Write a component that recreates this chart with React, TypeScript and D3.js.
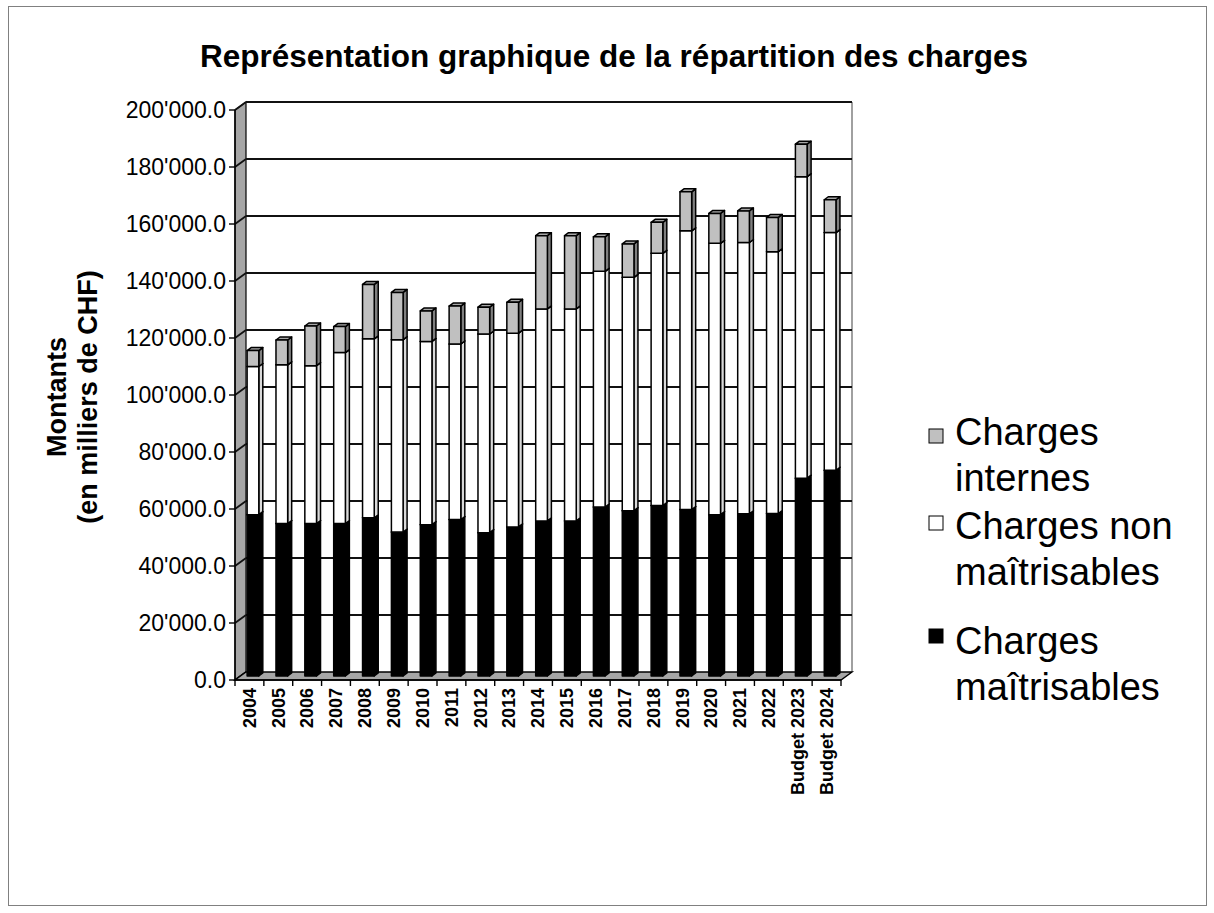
import * as d3 from 'd3';
import React from 'react';

// montants en milliers de CHF
const categories = [
  '2004', '2005', '2006', '2007', '2008', '2009', '2010', '2011', '2012', '2013',
  '2014', '2015', '2016', '2017', '2018', '2019', '2020', '2021', '2022',
  'Budget 2023', 'Budget 2024',
];
const maitrisables = [
  56.6, 53.5, 53.5, 53.5, 55.5, 50.5, 53.1, 54.9, 50.3, 52.3,
  54.4, 54.4, 59.3, 58.0, 59.8, 58.4, 56.6, 56.9, 57.0, 69.4, 72.2,
];
const nonMaitrisables = [
  52.0, 55.7, 55.4, 60.0, 62.8, 67.5, 64.3, 61.6, 69.7, 68.0,
  74.4, 74.4, 82.7, 81.9, 88.5, 97.8, 95.2, 95.2, 91.9, 105.8, 83.4,
];
const internes = [
  5.6, 8.7, 13.9, 9.1, 19.1, 16.6, 10.7, 13.3, 9.4, 10.8,
  25.7, 25.7, 12.1, 11.7, 10.9, 13.7, 10.5, 11.1, 12.0, 11.4, 11.5,
];
const yTicks = [0, 20000, 40000, 60000, 80000, 100000, 120000, 140000, 160000, 180000, 200000];

const seriesNames = ['Charges maîtrisables', 'Charges non maîtrisables', 'Charges internes'];
const legendLines = [
  ['Charges', 'internes'],
  ['Charges non', 'maîtrisables'],
  ['Charges', 'maîtrisables'],
];

// front, side, top colours per series
const palette = [
  { front: '#000000', side: '#000000', top: '#1a1a1a' },
  { front: '#ffffff', side: '#d9d9d9', top: '#eeeeee' },
  { front: '#c0c0c0', side: '#7f7f7f', top: '#a6a6a6' },
];

const FONT = "Arial, 'Liberation Sans', sans-serif";

const chf = d3.formatLocale({
  decimal: '.',
  thousands: "'",
  grouping: [3],
  currency: ['', ''],
}).format(',.1f');

export default function App() {
  const W = 1214;
  const H = 913;
  const left = 235;
  const right = 841;
  const bottom = 680;
  const top = 110;
  // 3D depth of the plot (back wall offset)
  const dX = 11;
  const dY = -8;

  const x = d3.scaleBand<string>().domain(categories).range([left, right]).padding(0);
  const y = d3.scaleLinear().domain([0, 200000]).range([bottom, top]);
  const bw = x.bandwidth();

  // bars stand a bit inside the depth
  const barOffX = bw * 0.42;
  const barW = bw * 0.405;
  const barShiftY = -4;
  const bdx = 4;
  const bdy = -3;

  const stacked = d3.stack<any>().keys(['m', 'n', 'i'])(
    categories.map((c, k) => ({
      cat: c,
      m: maitrisables[k] * 1000,
      n: nonMaitrisables[k] * 1000,
      i: internes[k] * 1000,
    }))
  );

  const poly = (pts: number[][]) => pts.map((p) => p.join(',')).join(' ');

  const backL = left + dX;
  const backR = right + dX;

  // legend layout (entries listed top to bottom)
  const legendBase = [445, 539, 654];
  const legendBox = [429, 516, 629];

  return (
    <svg
      width={W}
      height={H}
      style={{ position: 'absolute', left: 0, top: 0, background: '#fff' }}
    >
      <rect x={8.5} y={6.5} width={1198} height={899} fill="#fff" stroke="#808080" strokeWidth={1} />

      <text
        x={614}
        y={67}
        textAnchor="middle"
        fontFamily={FONT}
        fontWeight="bold"
        fontSize={31.5}
      >
        Représentation graphique de la répartition des charges
      </text>

      {/* side wall */}
      <polygon
        points={poly([
          [left, bottom],
          [backL, bottom + dY],
          [backL, top + dY],
          [left, top],
        ])}
        fill="#a6a6a6"
        stroke="#000"
        strokeWidth={1.2}
      />
      {/* back wall right edge */}
      <line x1={backR} x2={backR} y1={top + dY} y2={bottom + dY} stroke="#a0a0a0" strokeWidth={2} />

      {/* gridlines */}
      {yTicks.map((t) => (
        <g key={t}>
          <line x1={left} y1={y(t)} x2={backL} y2={y(t) + dY} stroke="#111" strokeWidth={1.8} />
          {t > 0 && (
            <line x1={backL} y1={y(t) + dY} x2={backR} y2={y(t) + dY} stroke="#111" strokeWidth={1.8} />
          )}
        </g>
      ))}

      {/* floor */}
      <polygon
        points={poly([
          [left, bottom],
          [right, bottom],
          [backR, bottom + dY],
          [backL, bottom + dY],
        ])}
        fill="#a6a6a6"
        stroke="#000"
        strokeWidth={1.4}
      />

      {/* bars */}
      {stacked.map((s, si) =>
        s.map((d: any, k: number) => {
          const x0 = (x(d.data.cat) as number) + barOffX;
          const x1 = x0 + barW;
          const yb = y(d[0]) + barShiftY;
          const yt = y(d[1]) + barShiftY;
          const col = palette[si];
          return (
            <g key={`${si}-${k}`} stroke="#000" strokeWidth={1.5} strokeLinejoin="round">
              <polygon
                points={poly([
                  [x1, yb],
                  [x1 + bdx, yb + bdy],
                  [x1 + bdx, yt + bdy],
                  [x1, yt],
                ])}
                fill={col.side}
              />
              <polygon
                points={poly([
                  [x0, yt],
                  [x1, yt],
                  [x1 + bdx, yt + bdy],
                  [x0 + bdx, yt + bdy],
                ])}
                fill={col.top}
              />
              <rect x={x0} y={yt} width={barW} height={yb - yt} fill={col.front} />
            </g>
          );
        })
      )}

      {/* y axis */}
      <line x1={left} x2={left} y1={bottom} y2={top} stroke="#000" strokeWidth={1.4} />
      {yTicks.map((t) => (
        <g key={`yt${t}`}>
          <line x1={left - 6} x2={left} y1={y(t)} y2={y(t)} stroke="#000" strokeWidth={1.4} />
          <text
            x={226}
            y={y(t)}
            dy="0.35em"
            textAnchor="end"
            fontFamily={FONT}
            fontSize={23}
          >
            {chf(t)}
          </text>
        </g>
      ))}

      {/* x axis */}
      <line x1={left} x2={right} y1={bottom} y2={bottom} stroke="#000" strokeWidth={1.4} />
      {categories.concat(['end']).map((c, k) => {
        const xx = left + k * bw;
        return <line key={`xt${k}`} x1={xx} x2={xx} y1={bottom} y2={bottom + 6} stroke="#000" strokeWidth={1.4} />;
      })}
      {categories.map((c) => {
        const cx = (x(c) as number) + bw / 2;
        return (
          <text
            key={`xl${c}`}
            transform={`translate(${cx},${bottom + 8}) rotate(-90)`}
            dy="0.35em"
            textAnchor="end"
            fontFamily={FONT}
            fontWeight="bold"
            fontSize={18}
          >
            {c}
          </text>
        );
      })}

      {/* y title */}
      <g transform="translate(72,397) rotate(-90)" fontFamily={FONT} fontWeight="bold" fontSize={27}>
        <text x={0} y={-15} dy="0.35em" textAnchor="middle">Montants</text>
        <text x={0} y={16} dy="0.35em" textAnchor="middle">(en milliers de CHF)</text>
      </g>

      {/* legend */}
      {legendLines.map((lines, k) => {
        const si = 2 - k;
        const base = legendBase[k];
        return (
          <g key={`lg${k}`}>
            <rect
              x={929}
              y={legendBox[k]}
              width={14}
              height={14}
              fill={palette[si].front}
              stroke="#000"
              strokeWidth={1}
            />
            <text x={955} y={base} fontFamily={FONT} fontSize={38} aria-label={seriesNames[si]}>
              {lines.map((l, j) => (
                <tspan key={j} x={955} y={base + j * 46}>
                  {l}
                </tspan>
              ))}
            </text>
          </g>
        );
      })}
    </svg>
  );
}
